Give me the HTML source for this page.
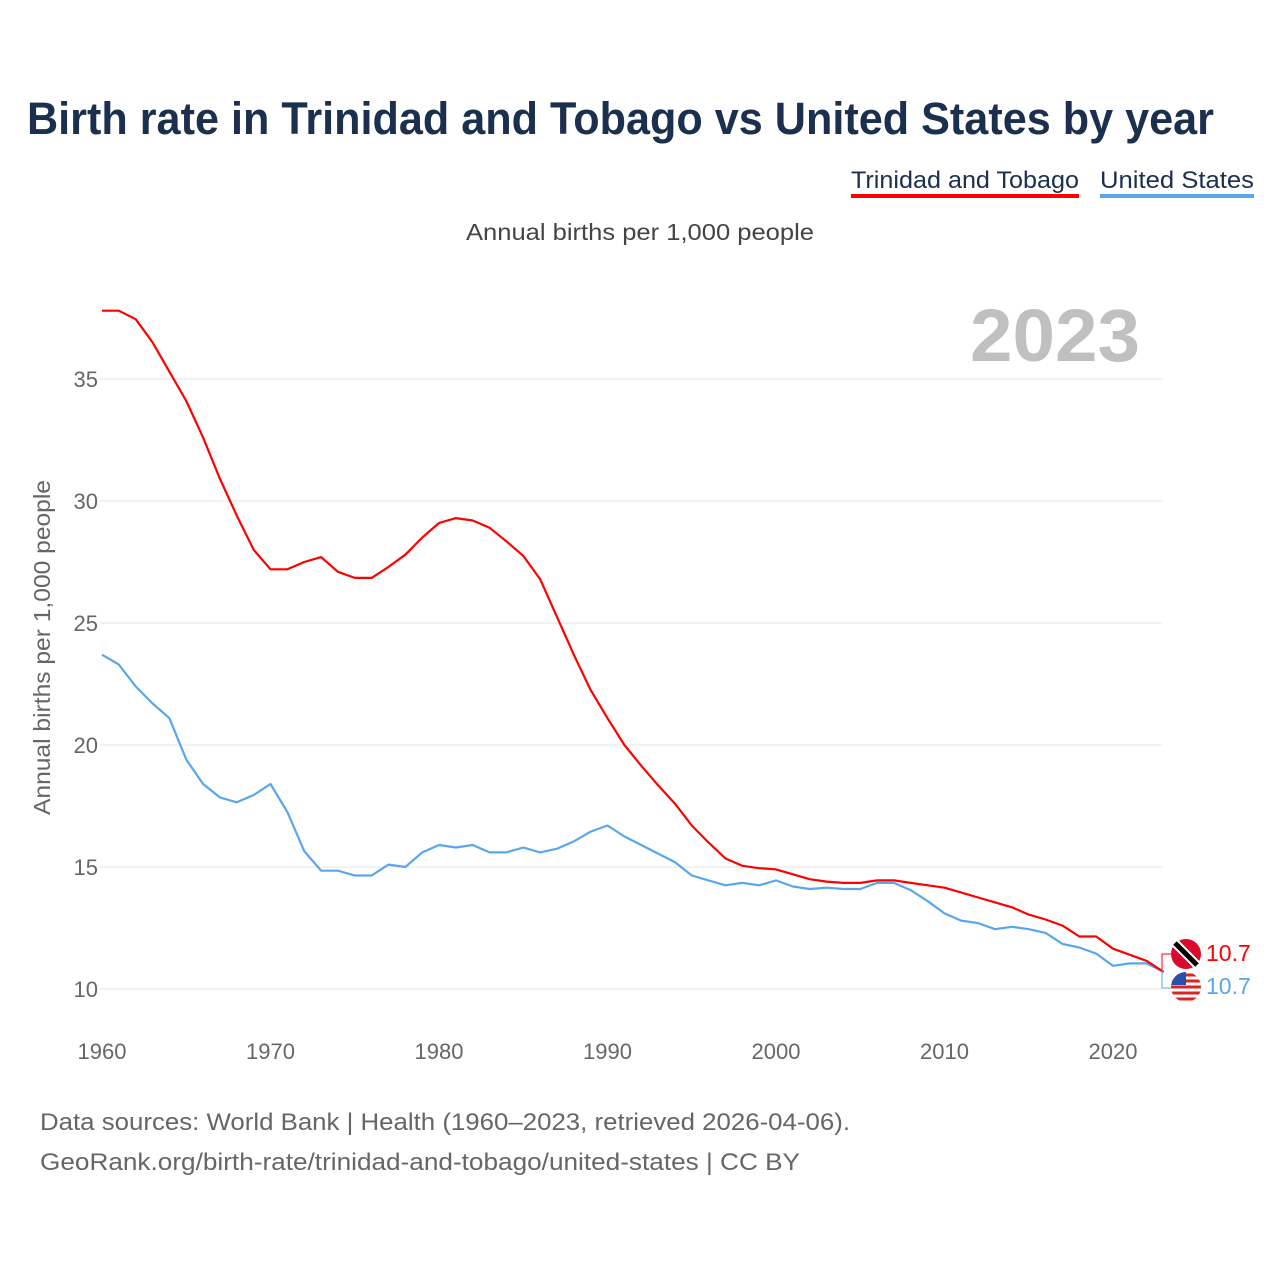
<!DOCTYPE html>
<html><head><meta charset="utf-8"><style>
body{margin:0;width:1280px;height:1280px;background:#fff;font-family:"Liberation Sans",sans-serif;overflow:hidden}
</style></head><body>
<svg id="c" width="1280" height="1280" style="position:absolute;left:0;top:0">
<defs><clipPath id="usclip"><circle cx="1186" cy="987" r="15"/></clipPath></defs>
<text x="27" y="134" font-size="45" font-weight="bold" fill="#1b2f4e" textLength="1187" lengthAdjust="spacingAndGlyphs">Birth rate in Trinidad and Tobago vs United States by year</text>
<g><text x="851" y="188" font-size="24" fill="#1b2f4e" textLength="228" lengthAdjust="spacingAndGlyphs">Trinidad and Tobago</text><rect x="851" y="194" width="228" height="4" fill="#f00"/></g>
<g><text x="1100" y="188" font-size="24" fill="#1b2f4e" textLength="154" lengthAdjust="spacingAndGlyphs">United States</text><rect x="1100" y="194" width="154" height="4" fill="#5aa6ec"/></g>
<text x="466" y="240" font-size="23" fill="#444" textLength="348" lengthAdjust="spacingAndGlyphs">Annual births per 1,000 people</text>
<text x="970" y="361" font-size="74" font-weight="bold" fill="#c0c0c0" textLength="170" lengthAdjust="spacingAndGlyphs">2023</text>
<text transform="translate(50,815) rotate(-90)" font-size="23" fill="#666" textLength="335" lengthAdjust="spacingAndGlyphs">Annual births per 1,000 people</text>
<g id="grid"></g><g id="lines"></g><g id="ends"></g>
<text x="40" y="1130" font-size="24" fill="#666" textLength="810" lengthAdjust="spacingAndGlyphs">Data sources: World Bank | Health (1960–2023, retrieved 2026-04-06).</text>
<text x="40" y="1170" font-size="24" fill="#666" textLength="760" lengthAdjust="spacingAndGlyphs">GeoRank.org/birth-rate/trinidad-and-tobago/united-states | CC BY</text>
</svg>
<script>
const years=[];for(let y=1960;y<=2023;y++)years.push(y);
const ttValues=[37.8,37.8,37.45,36.5,35.3,34.1,32.6,30.9,29.4,28.0,27.2,27.2,27.5,27.7,27.1,26.85,26.85,27.3,27.8,28.5,29.1,29.3,29.2,28.9,28.35,27.75,26.8,25.25,23.7,22.25,21.1,20.0,19.15,18.35,17.6,16.7,16.0,15.35,15.05,14.95,14.9,14.7,14.5,14.4,14.35,14.35,14.45,14.45,14.35,14.25,14.15,13.95,13.75,13.55,13.35,13.05,12.85,12.6,12.15,12.15,11.65,11.4,11.15,10.7];
const usValues=[23.7,23.3,22.4,21.7,21.1,19.4,18.4,17.85,17.65,17.95,18.4,17.25,15.65,14.85,14.85,14.65,14.65,15.1,15.0,15.6,15.9,15.8,15.9,15.6,15.6,15.8,15.6,15.75,16.05,16.45,16.7,16.25,15.9,15.55,15.2,14.65,14.45,14.25,14.35,14.25,14.45,14.2,14.1,14.15,14.1,14.1,14.35,14.35,14.05,13.6,13.1,12.8,12.7,12.45,12.55,12.45,12.3,11.85,11.7,11.45,10.95,11.05,11.05,10.7];
const yTicks=[10,15,20,25,30,35];
const xTicks=[1960,1970,1980,1990,2000,2010,2020];
const NS='http://www.w3.org/2000/svg';
const xs=y=>102+(y-1960)*16.85;
const ys=v=>989-(v-10)*24.4;
function mk(t,a,p){const e=document.createElementNS(NS,t);for(const k in a)e.setAttribute(k,a[k]);p.appendChild(e);return e;}
const grid=document.getElementById('grid');
yTicks.forEach(v=>{
 const l=mk('line',{x1:100,x2:1162,y1:ys(v),y2:ys(v),stroke:'#e4e4e4','stroke-width':1},grid);
 
 
 const t=mk('text',{x:98,y:ys(v)+8,'font-size':22,fill:'#666','text-anchor':'end'},grid);t.textContent=v;
 
 
});
xTicks.forEach(v=>{
 const t=mk('text',{x:xs(v),y:1059,'font-size':22,fill:'#666','text-anchor':'middle'},grid);t.textContent=v;
 
 
});
const lines=document.getElementById('lines');
function series(vals,col,name){
 const p=mk('path',{d:vals.map((v,i)=>(i?'L':'M')+xs(years[i]).toFixed(1)+','+ys(v).toFixed(1)).join(''),fill:'none',stroke:col,'stroke-width':2.2,'stroke-linejoin':'round'},lines);
 
 
}
series(usValues,'#5aa6ec','us-line');
series(ttValues,'#f00','tt-line');
const ends=document.getElementById('ends');
mk('path',{d:`M1176,954L1162,954L1162,970`,fill:'none',stroke:'#f00','stroke-width':1},ends);
mk('path',{d:`M1162,970L1162,988L1176,988`,fill:'none',stroke:'#5aa6ec','stroke-width':1},ends);
const f1=mk('g',{},ends);
mk('circle',{cx:1186,cy:954,r:15,fill:'#da0a2e'},f1);
mk('line',{x1:1175,y1:943,x2:1197,y2:965,stroke:'#fff','stroke-width':9},f1);
mk('line',{x1:1175,y1:943,x2:1197,y2:965,stroke:'#000','stroke-width':5},f1);
const f2=mk('g',{'clip-path':'url(#usclip)'},ends);
mk('circle',{cx:1186,cy:987,r:15,fill:'#fff'},f2);
[975,981,987,993,999].forEach(y=>mk('rect',{x:1171,y:y-1.5,width:30,height:3,fill:'#d22'},f2));
mk('rect',{x:1171,y:972,width:15,height:13,fill:'#2a4fa8'},f2);
const t1=mk('text',{x:1206,y:961,'font-size':23,fill:'#f00'},ends);t1.textContent=ttValues[ttValues.length-1];

const t2=mk('text',{x:1206,y:994,'font-size':23,fill:'#5aa6ec'},ends);t2.textContent=usValues[usValues.length-1];

</script>
</body></html>
